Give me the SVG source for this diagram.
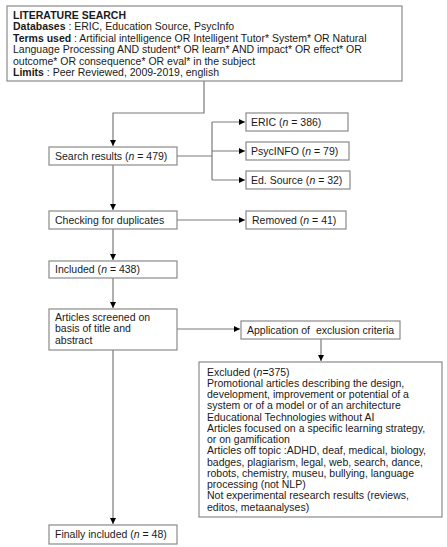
<svg xmlns="http://www.w3.org/2000/svg" width="447" height="547" viewBox="0 0 447 547">
<style>
rect{fill:#fff;stroke:#8a8a8a;stroke-width:1.2}
text{font-family:"Liberation Sans",Arial,sans-serif;font-size:10.5px;fill:#1a1a1a}
.b{font-weight:bold}
.l{fill:none;stroke:#7a7a7a;stroke-width:1.2}
</style>
<defs>
<marker id="ah" markerWidth="6" markerHeight="6" refX="6" refY="3" orient="auto" markerUnits="userSpaceOnUse">
<path d="M0,0 L6,3 L0,6 Z" fill="#000"/>
</marker>
</defs>
<rect width="447" height="547" style="fill:#fff;stroke:none"/>
<g id="connectors">
<polyline class="l" points="204,81 204,113 113,113 113,146" marker-end="url(#ah)"/>
<polyline class="l" points="177,156 212,156"/>
<polyline class="l" points="212,122 212,180"/>
<line class="l" x1="212" y1="122" x2="245" y2="122" marker-end="url(#ah)"/>
<line class="l" x1="212" y1="151" x2="245" y2="151" marker-end="url(#ah)"/>
<line class="l" x1="212" y1="180" x2="245" y2="180" marker-end="url(#ah)"/>
<line class="l" x1="113" y1="165" x2="113" y2="210" marker-end="url(#ah)"/>
<line class="l" x1="177" y1="220" x2="245" y2="220" marker-end="url(#ah)"/>
<line class="l" x1="113" y1="229" x2="113" y2="260" marker-end="url(#ah)"/>
<line class="l" x1="113" y1="278" x2="113" y2="308" marker-end="url(#ah)"/>
<line class="l" x1="177" y1="329" x2="240" y2="329" marker-end="url(#ah)"/>
<line class="l" x1="321" y1="339" x2="321" y2="361" marker-end="url(#ah)"/>
<line class="l" x1="113" y1="350" x2="113" y2="524" marker-end="url(#ah)"/>
</g>
<g id="search">
<rect x="7" y="6" width="395" height="75"/>
<text x="13" y="19" class="b">LITERATURE SEARCH</text>
<text x="13" y="30.4"><tspan class="b">Databases</tspan> : ERIC, Education Source, PsycInfo</text>
<text x="13" y="41.8"><tspan class="b">Terms used</tspan> : Artificial intelligence OR Intelligent Tutor* System* OR Natural</text>
<text x="13" y="53.2">Language Processing AND student* OR learn* AND impact* OR effect* OR</text>
<text x="13" y="64.6">outcome* OR consequence* OR eval* in the subject</text>
<text x="13" y="76"><tspan class="b">Limits</tspan> : Peer Reviewed, 2009-2019, english</text>
</g>
<g id="results">
<rect x="49" y="147" width="128" height="18"/>
<text x="55" y="159.5">Search results (<tspan font-style="italic">n</tspan> = 479)</text>
</g>
<g id="eric">
<rect x="246" y="113" width="102" height="18"/>
<text x="251" y="125.5">ERIC (<tspan font-style="italic">n</tspan> = 386)</text>
</g>
<g id="psycinfo">
<rect x="246" y="142" width="103" height="18"/>
<text x="251" y="154.5">PsycINFO (<tspan font-style="italic">n</tspan> = 79)</text>
</g>
<g id="edsource">
<rect x="246" y="171" width="104" height="18"/>
<text x="251" y="183.5">Ed. Source (<tspan font-style="italic">n</tspan> = 32)</text>
</g>
<g id="duplicates">
<rect x="49" y="211" width="128" height="18"/>
<text x="55" y="223.5">Checking for duplicates</text>
</g>
<g id="removed">
<rect x="246" y="211" width="100" height="18"/>
<text x="252" y="223.5">Removed (<tspan font-style="italic">n</tspan> = 41)</text>
</g>
<g id="included">
<rect x="49" y="261" width="128" height="17"/>
<text x="55" y="273">Included (<tspan font-style="italic">n</tspan> = 438)</text>
</g>
<g id="screened">
<rect x="49" y="309" width="128" height="41"/>
<text x="55" y="321">Articles screened on</text>
<text x="55" y="332.4">basis of title and</text>
<text x="55" y="343.8">abstract</text>
</g>
<g id="application">
<rect x="241" y="321" width="159" height="18"/>
<text x="247" y="333.5" style="white-space:pre">Application of  exclusion criteria</text>
</g>
<g id="excluded">
<rect x="199" y="362" width="243" height="155"/>
<text x="207" y="375.5">Excluded (<tspan font-style="italic">n</tspan>=375)</text>
<text x="207" y="386.75">Promotional articles describing the design,</text>
<text x="207" y="398">development, improvement or potential of a</text>
<text x="207" y="409.25">system or of a model or of an architecture</text>
<text x="207" y="420.5">Educational Technologies without AI</text>
<text x="207" y="431.75">Articles focused on a specific learning strategy,</text>
<text x="207" y="443">or on gamification</text>
<text x="207" y="454.25">Articles off topic :ADHD, deaf, medical, biology,</text>
<text x="207" y="465.5">badges, plagiarism, legal, web, search, dance,</text>
<text x="207" y="476.75">robots, chemistry, museu, bullying, language</text>
<text x="207" y="488">processing (not NLP)</text>
<text x="207" y="499.25">Not experimental research results (reviews,</text>
<text x="207" y="510.5">editos, metaanalyses)</text>
</g>
<g id="final">
<rect x="49" y="525" width="128" height="19"/>
<text x="55" y="538">Finally included (<tspan font-style="italic">n</tspan> = 48)</text>
</g>
</svg>
